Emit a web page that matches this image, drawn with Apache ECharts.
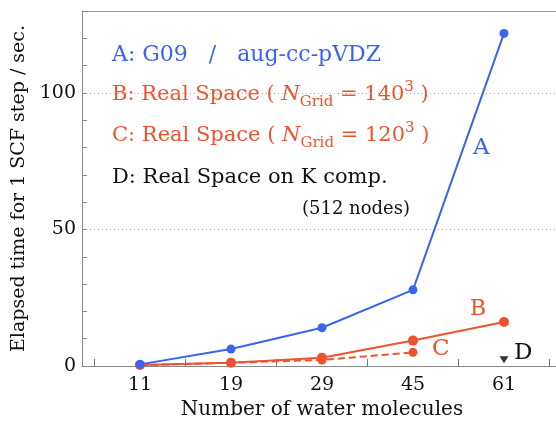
<!DOCTYPE html>
<html>
<head>
<meta charset="utf-8">
<script src="https://cdn.jsdelivr.net/npm/echarts@6/dist/echarts.min.js"></script>
<style>html,body{margin:0;padding:0;background:#fff;}#c{width:556px;height:421px;}</style>
</head>
<body>
<div id="c"></div>
<script>
const categories = ['11', '19', '29', '45', '61'];
const seriesA = [0.6, 6.2, 14.0, 27.9, 121.8];
const seriesB = [0.4, 1.2, 3.0, 9.3, 16.1];
const seriesC = [0.3, 1.2, 2.2, 5.0, null];
const seriesD = [null, null, null, null, 2.3];
const yTicks = [0, 50, 100];

const BLUE = '#3a63ee';
const RED = '#ee5230';
const FONT = 'DejaVu Serif';

const chart = echarts.init(document.getElementById('c'), null, {renderer: 'canvas'});

function rich(size) {
  return {
    t: {fontSize: size, fontFamily: FONT, lineHeight: 30, verticalAlign: 'middle'},
    n: {fontSize: size, fontFamily: FONT, fontStyle: 'italic', lineHeight: 30, verticalAlign: 'middle'},
    sub: {fontSize: 15, fontFamily: FONT, lineHeight: 15, verticalAlign: 'bottom'},
    sup: {fontSize: 15, fontFamily: FONT, lineHeight: 15, verticalAlign: 'top'}
  };
}

function legendText(x, y, text, color, size) {
  return {
    type: 'text', x: x, y: y, silent: true,
    style: {text: text, fill: color, rich: rich(size), font: size + 'px "' + FONT + '"', verticalAlign: 'top'}
  };
}

chart.setOption({
  animation: false,
  grid: [
    {left: 94.5, right: 6.5, top: 11, bottom: 55, outerBoundsMode: 'none', containLabel: false},
    {left: 82, right: 0, top: 11, bottom: 55, outerBoundsMode: 'none', containLabel: false}
  ],
  xAxis: [
    {
      type: 'category', gridIndex: 0, data: categories, boundaryGap: true, position: 'bottom',
      axisLine: {show: false},
      axisTick: {show: true, inside: true, length: 7, lineStyle: {color: '#777'}},
      axisLabel: {margin: 10, color: '#111', fontFamily: FONT, fontSize: 19},
      name: 'Number of water molecules', nameLocation: 'middle', nameGap: 34,
      nameTextStyle: {color: '#111', fontFamily: FONT, fontSize: 20}
    },
    {
      type: 'value', gridIndex: 1, position: 'bottom', min: 0, max: 1,
      axisLine: {show: true, onZero: false, lineStyle: {color: '#888', width: 1}},
      axisTick: {show: false}, axisLabel: {show: false}, splitLine: {show: false}
    },
    {
      type: 'value', gridIndex: 1, position: 'top', min: 0, max: 1,
      axisLine: {show: true, onZero: false, lineStyle: {color: '#999', width: 1}},
      axisTick: {show: false}, axisLabel: {show: false}, splitLine: {show: false}
    }
  ],
  yAxis: [
    {
      type: 'value', gridIndex: 0, min: 0, max: 130, show: false, position: 'left'
    },
    {
      type: 'value', gridIndex: 1, min: 0, max: 130, interval: 10, position: 'left', offset: 0,
      axisLine: {show: true, onZero: false, lineStyle: {color: '#888', width: 1}},
      axisTick: {show: true, inside: true, length: 5, lineStyle: {color: '#888'}},
      axisLabel: {show: false}, splitLine: {show: false}
    },
    {
      type: 'value', gridIndex: 1, min: 0, max: 130, interval: 50, position: 'left', offset: 0,
      axisLine: {show: false, onZero: false},
      axisTick: {show: false},
      axisLabel: {
        margin: 6, color: '#111', fontFamily: FONT, fontSize: 19,
        formatter: function (v) { return yTicks.indexOf(v) >= 0 ? String(v) : ''; }
      },
      splitLine: {show: true, lineStyle: {color: '#aaa', type: [1, 3], width: 1}},
      name: 'Elapsed time for 1 SCF step / sec.', nameLocation: 'middle', nameGap: 42,
      nameTextStyle: {color: '#111', fontFamily: FONT, fontSize: 19}
    }
  ],
  series: [
    {
      name: 'A', type: 'line', xAxisIndex: 0, yAxisIndex: 0, data: seriesA,
      symbol: 'circle', symbolSize: 9, itemStyle: {color: BLUE},
      lineStyle: {color: BLUE, width: 2}, z: 3
    },
    {
      name: 'C', type: 'line', xAxisIndex: 0, yAxisIndex: 0, data: seriesC,
      symbol: 'circle', symbolSize: 9, itemStyle: {color: RED},
      lineStyle: {color: RED, width: 2, type: [7, 4]}, z: 2
    },
    {
      name: 'B', type: 'line', xAxisIndex: 0, yAxisIndex: 0, data: seriesB,
      symbol: 'circle', symbolSize: 10, itemStyle: {color: RED},
      lineStyle: {color: RED, width: 2}, z: 2
    },
    {
      name: 'D', type: 'scatter', xAxisIndex: 0, yAxisIndex: 0, data: seriesD,
      symbol: 'triangle', symbolRotate: 180, symbolSize: [9, 7], itemStyle: {color: '#000'}, z: 4
    }
  ],
  graphic: [
    legendText(112, 40, '{t|A: G09   /   aug-cc-pVDZ}', BLUE, 22),
    legendText(112, 80, '{t|B: Real Space ( }{n|N}{sub|Grid}{t| = 140}{sup|3}{t| )}', RED, 21),
    legendText(112, 121, '{t|C: Real Space ( }{n|N}{sub|Grid}{t| = 120}{sup|3}{t| )}', RED, 21),
    legendText(112, 163, '{t|D: Real Space on K comp.}', '#111', 21),
    {type: 'text', x: 302, y: 200, silent: true,
     style: {text: '(512 nodes)', fill: '#111', font: '18px "' + FONT + '"', verticalAlign: 'top'}},
    {type: 'text', x: 473, y: 137, silent: true,
     style: {text: 'A', fill: BLUE, font: '23px "' + FONT + '"', verticalAlign: 'top'}},
    {type: 'text', x: 470, y: 298, silent: true,
     style: {text: 'B', fill: RED, font: '22px "' + FONT + '"', verticalAlign: 'top'}},
    {type: 'text', x: 432, y: 338, silent: true,
     style: {text: 'C', fill: RED, font: '23px "' + FONT + '"', verticalAlign: 'top'}},
    {type: 'text', x: 514, y: 342, silent: true,
     style: {text: 'D', fill: '#111', font: '23px "' + FONT + '"', verticalAlign: 'top'}}
  ]
});
</script>
</body>
</html>
